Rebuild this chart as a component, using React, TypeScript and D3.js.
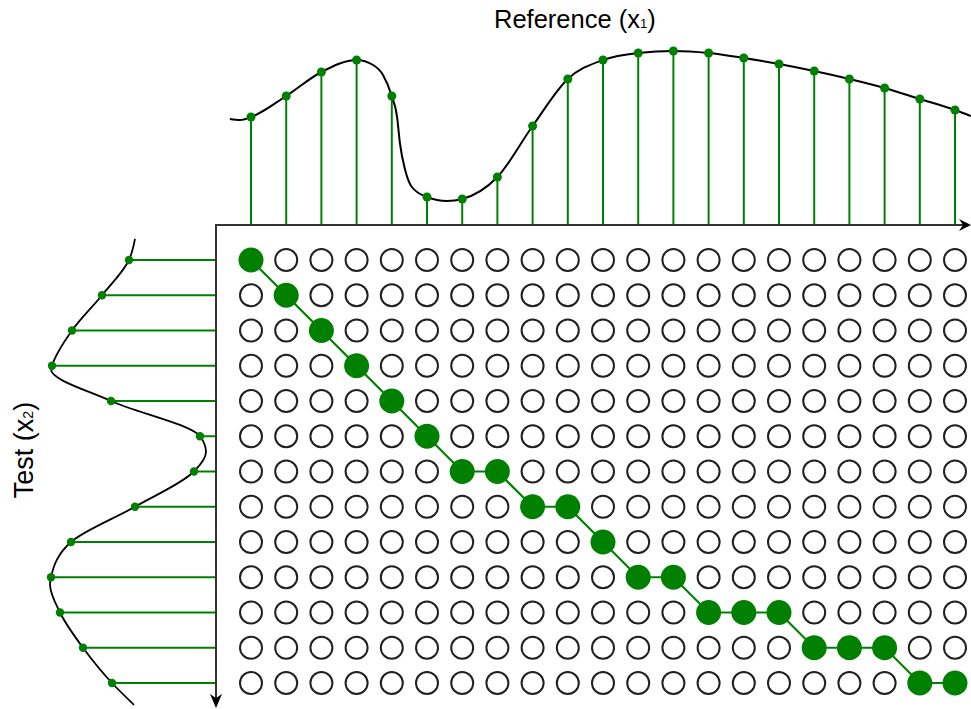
import React from "react";
import * as d3 from "d3";

// ---- Data ----
// Reference signal x1: 21 samples (height above the time axis)
const refSamples = [108, 129, 153, 165, 129, 28, 26, 48, 99, 146, 165, 172, 174, 172, 167, 161, 154, 146, 137, 126, 115];
// Underlying continuous reference curve (sample-index position, height)
const refCurveT = [-0.6, -0.31, 0, 1, 2, 3, 3.47, 3.75, 4, 4.15, 4.23, 4.38, 4.57, 5, 5.57, 6, 7, 8, 9, 10, 11, 12, 13, 14, 15, 16, 17, 18, 19, 20, 20.45];
const refCurveV = [106, 105, 108, 129, 153, 165, 160, 150, 129, 108, 82, 55, 38, 28, 24, 26, 48, 99, 146, 165, 172, 174, 172, 167, 161, 154, 146, 137, 126, 115, 109];

// Test signal x2: 13 samples (distance left of the time axis)
const testSamples = [87, 114, 144, 164, 105, 16, 22, 81, 145, 165, 156, 133, 104];
const testCurveT = [-0.6, 0, 1, 2, 3, 3.1, 4, 5, 5.45, 6, 7, 8, 9, 9.2, 10, 11, 12, 12.62];
const testCurveV = [81, 87, 114, 144, 164, 165, 105, 16, 10, 22, 81, 145, 165, 166, 156, 133, 104, 82];

// Warping path: [row (test index), column (reference index)]
const warpPath: [number, number][] = [
  [0, 0], [1, 1], [2, 2], [3, 3], [4, 4], [5, 5], [6, 6], [6, 7], [7, 8], [7, 9], [8, 10],
  [9, 11], [9, 12], [10, 13], [10, 14], [10, 15], [11, 16], [11, 17], [11, 18], [12, 19], [12, 20],
];

const titleTop = "Reference";
const subTop = "1";
const titleLeft = "Test";
const subLeft = "2";

const GREEN = "#008000";
const DARK = "#231f20";
const AXIS = "#333333";
const FONT = "'Liberation Sans', Arial, sans-serif";

export default function App() {
  const W = 971, H = 709;
  const nCols = refSamples.length;
  const nRows = testSamples.length;

  const colX = d3.scaleLinear().domain([0, nCols - 1]).range([251, 955]);
  const rowY = d3.scaleLinear().domain([0, nRows - 1]).range([260, 683]);
  const topY = d3.scaleLinear().domain([0, 200]).range([225, 25]);
  const leftX = d3.scaleLinear().domain([0, 200]).range([216, 16]);

  const axisY = topY(0);
  const axisX = leftX(0);

  const refLine = d3
    .line<number>()
    .x((_, i) => colX(refCurveT[i]))
    .y((v) => topY(v))
    .curve(d3.curveMonotoneX);
  const testLine = d3
    .line<number>()
    .x((v) => leftX(v))
    .y((_, i) => rowY(testCurveT[i]))
    .curve(d3.curveMonotoneY);

  const pathSet = new Set(warpPath.map(([r, c]) => `${r}-${c}`));
  const cells: { r: number; c: number }[] = [];
  for (let r = 0; r < nRows; r++) for (let c = 0; c < nCols; c++) if (!pathSet.has(`${r}-${c}`)) cells.push({ r, c });

  const pathLine = d3
    .line<[number, number]>()
    .x((d) => colX(d[1]))
    .y((d) => rowY(d[0]));

  const rightEnd = 971;
  const bottomEnd = 708;

  return (
    <svg
      width={W}
      height={H}
      viewBox={`0 0 ${W} ${H}`}
      style={{ position: "absolute", left: 0, top: 0, background: "#fff" }}
    >
      <rect width={W} height={H} fill="#fff" />

      {/* Top: reference signal stems */}
      {refSamples.map((v, i) => (
        <line key={`rs${i}`} x1={colX(i)} x2={colX(i)} y1={axisY} y2={topY(v)} stroke={GREEN} strokeWidth={2} />
      ))}
      <path d={refLine(refCurveV) || ""} fill="none" stroke="#000" strokeWidth={2} />
      {refSamples.map((v, i) => (
        <circle key={`rd${i}`} cx={colX(i)} cy={topY(v)} r={4.5} fill={GREEN} />
      ))}

      {/* Left: test signal stems */}
      {testSamples.map((v, i) => (
        <line key={`ts${i}`} x1={axisX} x2={leftX(v)} y1={rowY(i)} y2={rowY(i)} stroke={GREEN} strokeWidth={2} />
      ))}
      <path d={testLine(testCurveV) || ""} fill="none" stroke="#000" strokeWidth={1.8} />
      {testSamples.map((v, i) => (
        <circle key={`td${i}`} cx={leftX(v)} cy={rowY(i)} r={4.2} fill={GREEN} />
      ))}

      {/* Axes */}
      <line x1={axisX} x2={rightEnd - 6} y1={axisY} y2={axisY} stroke={AXIS} strokeWidth={2} />
      <path
        d={`M${rightEnd},${axisY} L${rightEnd - 12},${axisY - 6} L${rightEnd - 8},${axisY} L${rightEnd - 12},${axisY + 6} Z`}
        fill="#000"
      />
      <line x1={axisX} x2={axisX} y1={axisY - 1} y2={bottomEnd - 6} stroke={AXIS} strokeWidth={2} />
      <path
        d={`M${axisX},${bottomEnd} L${axisX - 6},${bottomEnd - 14} L${axisX},${bottomEnd - 10} L${axisX + 6},${bottomEnd - 14} Z`}
        fill="#000"
      />

      {/* Grid of cells */}
      {cells.map(({ r, c }) => (
        <circle key={`c${r}-${c}`} cx={colX(c)} cy={rowY(r)} r={11} fill="#fff" stroke={DARK} strokeWidth={2} />
      ))}
      <path d={pathLine(warpPath) || ""} fill="none" stroke={GREEN} strokeWidth={2.2} />
      {warpPath.map(([r, c]) => (
        <circle key={`p${r}-${c}`} cx={colX(c)} cy={rowY(r)} r={12.5} fill={GREEN} />
      ))}

      {/* Labels */}
      <text x={494} y={28} fontFamily={FONT} fontSize={25.5} fill="#000">
        {titleTop} (x<tspan fontSize={13}>{subTop}</tspan>)
      </text>
      <text
        transform={`translate(33,450) rotate(-90)`}
        textAnchor="middle"
        fontFamily={FONT}
        fontSize={27}
        fill="#000"
      >
        {titleLeft} (x<tspan fontSize={14}>{subLeft}</tspan>)
      </text>
    </svg>
  );
}
